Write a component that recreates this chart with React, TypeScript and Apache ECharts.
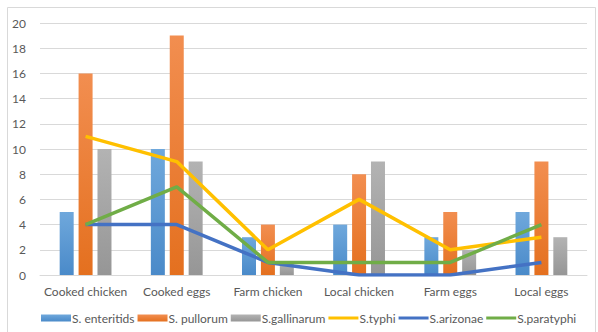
import React, { useEffect, useRef } from "react";
import * as echarts from "echarts";

const categories = ["Cooked chicken", "Cooked eggs", "Farm chicken", "Local chicken", "Farm eggs", "Local eggs"];
const enteritids = [5, 10, 3, 4, 3, 5];
const pullorum = [16, 19, 4, 8, 5, 9];
const gallinarum = [10, 9, 1, 9, 2, 3];
const typhi = [11, 9, 2, 6, 2, 3];
const arizonae = [4, 4, 1, 0, 0, 1];
const paratyphi = [4, 7, 1, 1, 1, 4];

const grad = (top: string, bottom: string) =>
  new echarts.graphic.LinearGradient(0, 0, 0, 1, [
    { offset: 0, color: top },
    { offset: 1, color: bottom },
  ]);

export default function App() {
  const ref = useRef<HTMLDivElement>(null);
  useEffect(() => {
    document.body.style.margin = "0";
    const chart = echarts.init(ref.current!, undefined, { renderer: "svg" });
    const font = "Lato, 'Liberation Sans', sans-serif";
    const lineIcon = "path://M0,0 H30 V3 H0 Z";
    const barSeries = (name: string, data: number[], top: string, bottom: string, legendColor: string) => ({
      name,
      type: "bar",
      data,
      barWidth: 14,
      barGap: "35%",
      itemStyle: { color: grad(top, bottom) },
      color: legendColor,
    });
    const lineSeries = (name: string, data: number[], color: string) => ({
      name,
      type: "line",
      data,
      symbol: "none",
      lineStyle: { width: 3.5, color },
      itemStyle: { color },
      color,
    });
    chart.setOption({
      animation: false,
      textStyle: { fontFamily: font },
      graphic: [
        {
          type: "rect",
          shape: { x: 7.5, y: 7.5, width: 588, height: 340 },
          style: { fill: "none", stroke: "#D9D9D9", lineWidth: 1 },
          silent: true,
        },
      ],
      grid: { left: 40, right: 11, top: 23, bottom: 57 },
      xAxis: {
        type: "category",
        data: categories,
        axisTick: { show: false },
        axisLine: { lineStyle: { color: "#D9D9D9", width: 1 } },
        axisLabel: { color: "#595959", fontSize: 12, margin: 10, interval: 0, fontFamily: font },
      },
      yAxis: {
        type: "value",
        min: 0,
        max: 20,
        interval: 2,
        axisLine: { show: false },
        axisTick: { show: false },
        splitLine: { lineStyle: { color: "#D9D9D9", width: 1 } },
        axisLabel: { color: "#595959", fontSize: 12, margin: 14, fontFamily: font },
      },
      legend: {
        bottom: 3,
        left: 36,
        itemWidth: 30,
        itemHeight: 7,
        itemGap: 3,
        textStyle: { color: "#595959", fontSize: 12, fontFamily: font, padding: [0, 0, 0, -4] },
        data: [
          { name: "S. enteritids", icon: "rect" },
          { name: "S. pullorum", icon: "rect" },
          { name: "S.gallinarum", icon: "rect" },
          { name: "S.typhi", icon: lineIcon },
          { name: "S.arizonae", icon: lineIcon },
          { name: "S.paratyphi", icon: lineIcon },
        ],
      },
      series: [
        barSeries("S. enteritids", enteritids, "#6FA8DC", "#4A8AC9", "#5B9BD5"),
        barSeries("S. pullorum", pullorum, "#F28E50", "#E4701F", "#ED7D31"),
        barSeries("S.gallinarum", gallinarum, "#B3B3B3", "#969696", "#A5A5A5"),
        lineSeries("S.typhi", typhi, "#FFC000"),
        lineSeries("S.arizonae", arizonae, "#4472C4"),
        lineSeries("S.paratyphi", paratyphi, "#70AD47"),
      ],
    });
    return () => chart.dispose();
  }, []);
  return <div ref={ref} style={{ width: 598, height: 332, position: "absolute", left: 0, top: 0 }} />;
}
